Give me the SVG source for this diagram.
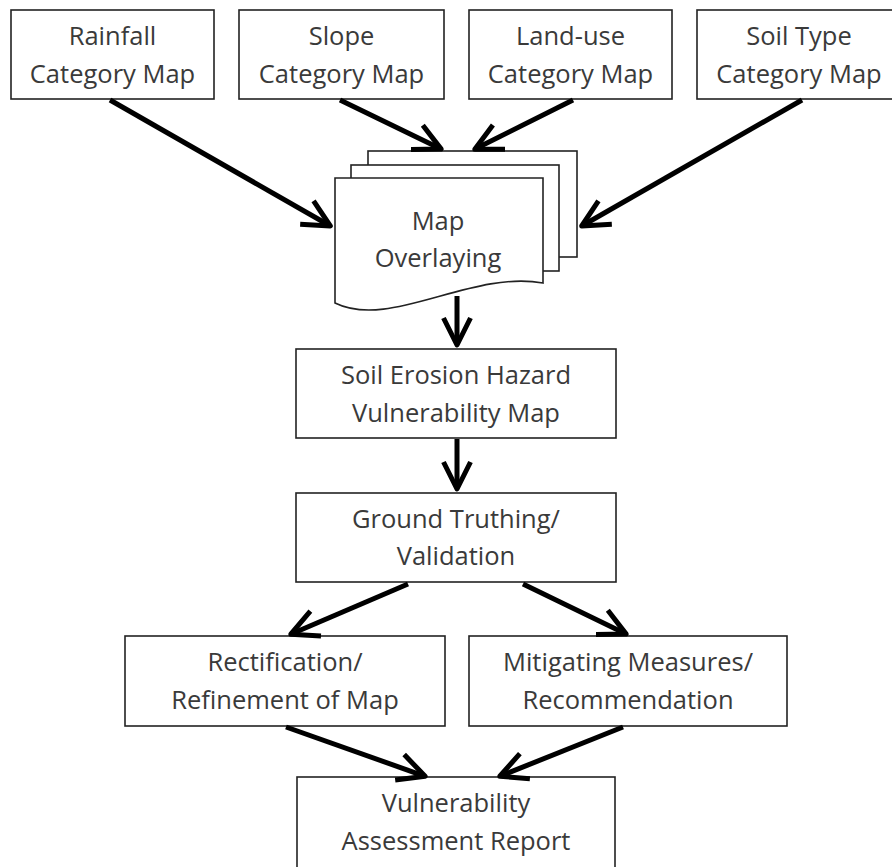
<svg xmlns="http://www.w3.org/2000/svg" width="892" height="867" viewBox="0 0 892 867">
  <style>
    .box { fill: #ffffff; stroke: #222222; stroke-width: 1.6; }
    .txt { font-family: "Open Sans", "Noto Sans", "Liberation Sans", sans-serif; font-size: 25.5px; fill: #3a3a3a; text-anchor: middle; }
    .conn { stroke: #000000; stroke-width: 5; fill: none; marker-end: url(#arrow); }
  </style>
  <defs>
    <marker id="arrow" markerUnits="userSpaceOnUse" viewBox="-40 -25 50 50" markerWidth="50" markerHeight="50" refX="-3" refY="0" orient="auto" overflow="visible">
      <path d="M-27,-13.5 L0,0 L-27,13.5" fill="none" stroke="#000000" stroke-width="5" stroke-linejoin="round" stroke-linecap="butt"/>
    </marker>
  </defs>
  <rect x="0" y="0" width="892" height="867" fill="#ffffff"/>

  <g id="rainfall">
    <rect class="box" x="11" y="10" width="203" height="89"/>
    <text class="txt" x="112.5" y="45">Rainfall</text>
    <text class="txt" x="112.5" y="83">Category Map</text>
  </g>
  <g id="slope">
    <rect class="box" x="239" y="10" width="205" height="89"/>
    <text class="txt" x="341.5" y="45">Slope</text>
    <text class="txt" x="341.5" y="83">Category Map</text>
  </g>
  <g id="landuse">
    <rect class="box" x="469" y="10" width="203" height="89"/>
    <text class="txt" x="570.5" y="45">Land-use</text>
    <text class="txt" x="570.5" y="83">Category Map</text>
  </g>
  <g id="soiltype">
    <rect class="box" x="697" y="10" width="204" height="89"/>
    <text class="txt" x="799" y="45">Soil Type</text>
    <text class="txt" x="799" y="83">Category Map</text>
  </g>

  <g id="overlay">
    <rect class="box" x="368" y="151" width="209" height="106"/>
    <rect class="box" x="351" y="165" width="208" height="106"/>
    <path class="box" d="M335,178 H543 V283 C470,270 390,330 335,303 Z"/>
    <text class="txt" x="438" y="230">Map</text>
    <text class="txt" x="438" y="267">Overlaying</text>
  </g>

  <g id="hazardmap">
    <rect class="box" x="296" y="349" width="320" height="89"/>
    <text class="txt" x="456" y="384">Soil Erosion Hazard</text>
    <text class="txt" x="456" y="422">Vulnerability Map</text>
  </g>
  <g id="groundtruth">
    <rect class="box" x="296" y="493" width="320" height="89"/>
    <text class="txt" x="456" y="528">Ground Truthing/</text>
    <text class="txt" x="456" y="565">Validation</text>
  </g>
  <g id="rectification">
    <rect class="box" x="125" y="636" width="320" height="90"/>
    <text class="txt" x="285" y="671">Rectification/</text>
    <text class="txt" x="285" y="709">Refinement of Map</text>
  </g>
  <g id="mitigating">
    <rect class="box" x="469" y="636" width="318" height="90"/>
    <text class="txt" x="628" y="671">Mitigating Measures/</text>
    <text class="txt" x="628" y="709">Recommendation</text>
  </g>
  <g id="report">
    <rect class="box" x="297" y="777" width="318" height="110"/>
    <text class="txt" x="456" y="812">Vulnerability</text>
    <text class="txt" x="456" y="850">Assessment Report</text>
  </g>

  <g id="connectors">
    <line class="conn" x1="110" y1="100" x2="327.7" y2="224.5"/>
    <line class="conn" x1="340" y1="100" x2="438.5" y2="147.8"/>
    <line class="conn" x1="573" y1="100" x2="477.5" y2="147.8"/>
    <line class="conn" x1="802" y1="100" x2="584.3" y2="224.5"/>
    <line class="conn" x1="457" y1="296" x2="457" y2="342"/>
    <line class="conn" x1="457" y1="439" x2="457" y2="486"/>
    <line class="conn" x1="408" y1="584" x2="293.6" y2="633"/>
    <line class="conn" x1="523" y1="584" x2="623.5" y2="632.8"/>
    <line class="conn" x1="286" y1="727" x2="422.3" y2="775.3"/>
    <line class="conn" x1="623" y1="727" x2="502.6" y2="775.1"/>
  </g>
</svg>
